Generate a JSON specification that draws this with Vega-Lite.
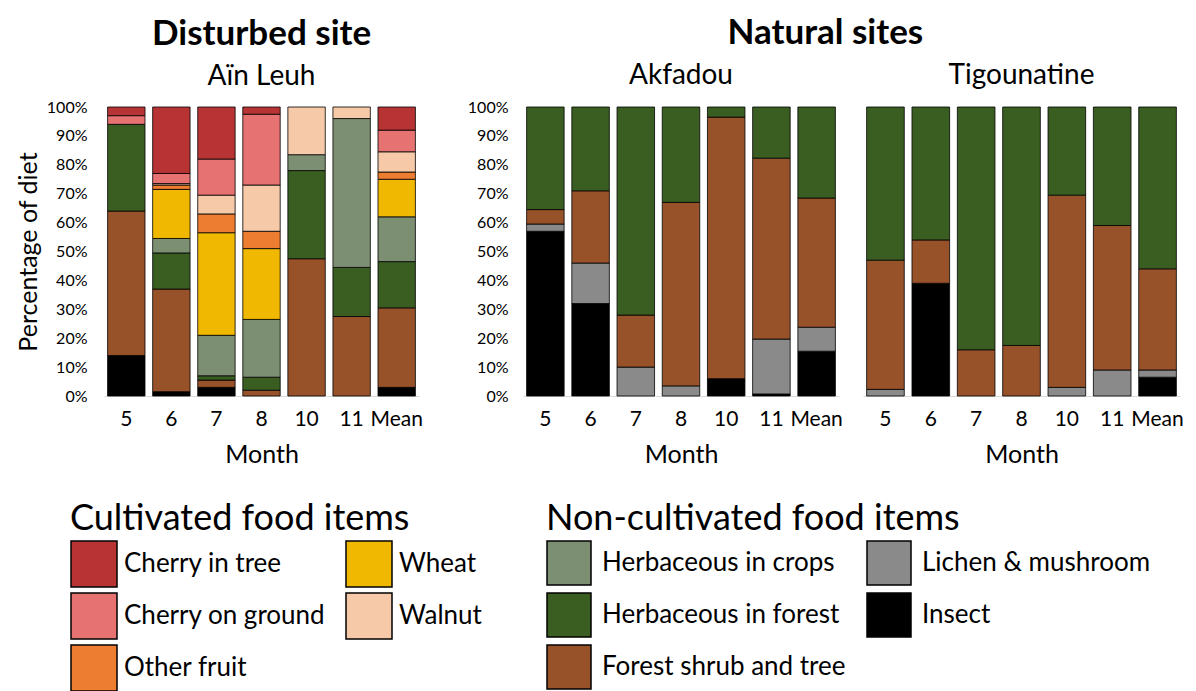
{
  "$schema": "https://vega.github.io/schema/vega-lite/v6.json",
  "background": "white",
  "padding": {"left": 16, "top": 15, "right": 5, "bottom": 5},
  "config": {
    "font": "Lato",
    "view": {"stroke": null},
    "title": {"color": "black", "subtitleColor": "black", "font": "Lato", "subtitleFont": "Lato"},
    "axis": {"labelColor": "black", "titleColor": "black", "labelFont": "Lato", "titleFont": "Lato", "titleFontWeight": "normal", "grid": false, "ticks": false},
    "legend": {"labelFont": "Lato", "titleFont": "Lato", "labelColor": "black", "titleColor": "black", "titleFontWeight": "normal", "padding": 0}
  },
  "datasets": {
    "cats": [
      {"item": "Insect", "rank": 1, "group": "non"},
      {"item": "Lichen & mushroom", "rank": 2, "group": "non"},
      {"item": "Forest shrub and tree", "rank": 3, "group": "non"},
      {"item": "Herbaceous in forest", "rank": 4, "group": "non"},
      {"item": "Herbaceous in crops", "rank": 5, "group": "non"},
      {"item": "Wheat", "rank": 6, "group": "cult"},
      {"item": "Other fruit", "rank": 7, "group": "cult"},
      {"item": "Walnut", "rank": 8, "group": "cult"},
      {"item": "Cherry on ground", "rank": 9, "group": "cult"},
      {"item": "Cherry in tree", "rank": 10, "group": "cult"}
    ],
    "diet": [
      {"site": "Aïn Leuh", "month": "5", "item": "Insect", "pct": 14},
      {"site": "Aïn Leuh", "month": "5", "item": "Forest shrub and tree", "pct": 50},
      {"site": "Aïn Leuh", "month": "5", "item": "Herbaceous in forest", "pct": 30},
      {"site": "Aïn Leuh", "month": "5", "item": "Cherry on ground", "pct": 3},
      {"site": "Aïn Leuh", "month": "5", "item": "Cherry in tree", "pct": 3},
      {"site": "Aïn Leuh", "month": "6", "item": "Insect", "pct": 1.5},
      {"site": "Aïn Leuh", "month": "6", "item": "Forest shrub and tree", "pct": 35.5},
      {"site": "Aïn Leuh", "month": "6", "item": "Herbaceous in forest", "pct": 12.5},
      {"site": "Aïn Leuh", "month": "6", "item": "Herbaceous in crops", "pct": 5},
      {"site": "Aïn Leuh", "month": "6", "item": "Wheat", "pct": 17},
      {"site": "Aïn Leuh", "month": "6", "item": "Other fruit", "pct": 1.5},
      {"site": "Aïn Leuh", "month": "6", "item": "Walnut", "pct": 0.5},
      {"site": "Aïn Leuh", "month": "6", "item": "Cherry on ground", "pct": 3.5},
      {"site": "Aïn Leuh", "month": "6", "item": "Cherry in tree", "pct": 23},
      {"site": "Aïn Leuh", "month": "7", "item": "Insect", "pct": 3},
      {"site": "Aïn Leuh", "month": "7", "item": "Forest shrub and tree", "pct": 2.5},
      {"site": "Aïn Leuh", "month": "7", "item": "Herbaceous in forest", "pct": 1.5},
      {"site": "Aïn Leuh", "month": "7", "item": "Herbaceous in crops", "pct": 14},
      {"site": "Aïn Leuh", "month": "7", "item": "Wheat", "pct": 35.5},
      {"site": "Aïn Leuh", "month": "7", "item": "Other fruit", "pct": 6.5},
      {"site": "Aïn Leuh", "month": "7", "item": "Walnut", "pct": 6.5},
      {"site": "Aïn Leuh", "month": "7", "item": "Cherry on ground", "pct": 12.5},
      {"site": "Aïn Leuh", "month": "7", "item": "Cherry in tree", "pct": 18},
      {"site": "Aïn Leuh", "month": "8", "item": "Forest shrub and tree", "pct": 2},
      {"site": "Aïn Leuh", "month": "8", "item": "Herbaceous in forest", "pct": 4.5},
      {"site": "Aïn Leuh", "month": "8", "item": "Herbaceous in crops", "pct": 20},
      {"site": "Aïn Leuh", "month": "8", "item": "Wheat", "pct": 24.5},
      {"site": "Aïn Leuh", "month": "8", "item": "Other fruit", "pct": 6},
      {"site": "Aïn Leuh", "month": "8", "item": "Walnut", "pct": 16},
      {"site": "Aïn Leuh", "month": "8", "item": "Cherry on ground", "pct": 24.5},
      {"site": "Aïn Leuh", "month": "8", "item": "Cherry in tree", "pct": 2.5},
      {"site": "Aïn Leuh", "month": "10", "item": "Forest shrub and tree", "pct": 47.5},
      {"site": "Aïn Leuh", "month": "10", "item": "Herbaceous in forest", "pct": 30.5},
      {"site": "Aïn Leuh", "month": "10", "item": "Herbaceous in crops", "pct": 5.5},
      {"site": "Aïn Leuh", "month": "10", "item": "Walnut", "pct": 16.5},
      {"site": "Aïn Leuh", "month": "11", "item": "Forest shrub and tree", "pct": 27.5},
      {"site": "Aïn Leuh", "month": "11", "item": "Herbaceous in forest", "pct": 17},
      {"site": "Aïn Leuh", "month": "11", "item": "Herbaceous in crops", "pct": 51.5},
      {"site": "Aïn Leuh", "month": "11", "item": "Walnut", "pct": 4},
      {"site": "Aïn Leuh", "month": "Mean", "item": "Insect", "pct": 3},
      {"site": "Aïn Leuh", "month": "Mean", "item": "Forest shrub and tree", "pct": 27.5},
      {"site": "Aïn Leuh", "month": "Mean", "item": "Herbaceous in forest", "pct": 16},
      {"site": "Aïn Leuh", "month": "Mean", "item": "Herbaceous in crops", "pct": 15.5},
      {"site": "Aïn Leuh", "month": "Mean", "item": "Wheat", "pct": 13},
      {"site": "Aïn Leuh", "month": "Mean", "item": "Other fruit", "pct": 2.5},
      {"site": "Aïn Leuh", "month": "Mean", "item": "Walnut", "pct": 7},
      {"site": "Aïn Leuh", "month": "Mean", "item": "Cherry on ground", "pct": 7.5},
      {"site": "Aïn Leuh", "month": "Mean", "item": "Cherry in tree", "pct": 8},
      {"site": "Akfadou", "month": "5", "item": "Insect", "pct": 57},
      {"site": "Akfadou", "month": "5", "item": "Lichen & mushroom", "pct": 2.5},
      {"site": "Akfadou", "month": "5", "item": "Forest shrub and tree", "pct": 5},
      {"site": "Akfadou", "month": "5", "item": "Herbaceous in forest", "pct": 35.5},
      {"site": "Akfadou", "month": "6", "item": "Insect", "pct": 32},
      {"site": "Akfadou", "month": "6", "item": "Lichen & mushroom", "pct": 14},
      {"site": "Akfadou", "month": "6", "item": "Forest shrub and tree", "pct": 25},
      {"site": "Akfadou", "month": "6", "item": "Herbaceous in forest", "pct": 29},
      {"site": "Akfadou", "month": "7", "item": "Lichen & mushroom", "pct": 10},
      {"site": "Akfadou", "month": "7", "item": "Forest shrub and tree", "pct": 18},
      {"site": "Akfadou", "month": "7", "item": "Herbaceous in forest", "pct": 72},
      {"site": "Akfadou", "month": "8", "item": "Lichen & mushroom", "pct": 3.5},
      {"site": "Akfadou", "month": "8", "item": "Forest shrub and tree", "pct": 63.5},
      {"site": "Akfadou", "month": "8", "item": "Herbaceous in forest", "pct": 33},
      {"site": "Akfadou", "month": "10", "item": "Insect", "pct": 6},
      {"site": "Akfadou", "month": "10", "item": "Forest shrub and tree", "pct": 90.5},
      {"site": "Akfadou", "month": "10", "item": "Herbaceous in forest", "pct": 3.5},
      {"site": "Akfadou", "month": "11", "item": "Insect", "pct": 0.7},
      {"site": "Akfadou", "month": "11", "item": "Lichen & mushroom", "pct": 19},
      {"site": "Akfadou", "month": "11", "item": "Forest shrub and tree", "pct": 62.6},
      {"site": "Akfadou", "month": "11", "item": "Herbaceous in forest", "pct": 17.7},
      {"site": "Akfadou", "month": "Mean", "item": "Insect", "pct": 15.5},
      {"site": "Akfadou", "month": "Mean", "item": "Lichen & mushroom", "pct": 8.3},
      {"site": "Akfadou", "month": "Mean", "item": "Forest shrub and tree", "pct": 44.7},
      {"site": "Akfadou", "month": "Mean", "item": "Herbaceous in forest", "pct": 31.5},
      {"site": "Tigounatine", "month": "5", "item": "Lichen & mushroom", "pct": 2.3},
      {"site": "Tigounatine", "month": "5", "item": "Forest shrub and tree", "pct": 44.7},
      {"site": "Tigounatine", "month": "5", "item": "Herbaceous in forest", "pct": 53},
      {"site": "Tigounatine", "month": "6", "item": "Insect", "pct": 39},
      {"site": "Tigounatine", "month": "6", "item": "Forest shrub and tree", "pct": 15},
      {"site": "Tigounatine", "month": "6", "item": "Herbaceous in forest", "pct": 46},
      {"site": "Tigounatine", "month": "7", "item": "Forest shrub and tree", "pct": 16},
      {"site": "Tigounatine", "month": "7", "item": "Herbaceous in forest", "pct": 84},
      {"site": "Tigounatine", "month": "8", "item": "Forest shrub and tree", "pct": 17.5},
      {"site": "Tigounatine", "month": "8", "item": "Herbaceous in forest", "pct": 82.5},
      {"site": "Tigounatine", "month": "10", "item": "Lichen & mushroom", "pct": 3},
      {"site": "Tigounatine", "month": "10", "item": "Forest shrub and tree", "pct": 66.5},
      {"site": "Tigounatine", "month": "10", "item": "Herbaceous in forest", "pct": 30.5},
      {"site": "Tigounatine", "month": "11", "item": "Lichen & mushroom", "pct": 9},
      {"site": "Tigounatine", "month": "11", "item": "Forest shrub and tree", "pct": 50},
      {"site": "Tigounatine", "month": "11", "item": "Herbaceous in forest", "pct": 41},
      {"site": "Tigounatine", "month": "Mean", "item": "Insect", "pct": 6.5},
      {"site": "Tigounatine", "month": "Mean", "item": "Lichen & mushroom", "pct": 2.5},
      {"site": "Tigounatine", "month": "Mean", "item": "Forest shrub and tree", "pct": 35},
      {"site": "Tigounatine", "month": "Mean", "item": "Herbaceous in forest", "pct": 56}
    ]
  },
  "spacing": 44,
  "hconcat": [
    {
      "title": {"text": "Disturbed site", "subtitle": "Aïn Leuh", "fontSize": 35, "fontWeight": "bold", "subtitleFontSize": 28, "subtitlePadding": 11, "anchor": "middle", "offset": 8},
      "width": 315,
      "height": 289,
      "data": {"name": "diet"},
      "transform": [
        {"filter": "datum.site === 'Aïn Leuh'"},
        {"lookup": "item", "from": {"data": {"name": "cats"}, "key": "item", "fields": ["rank", "group"]}},
        {"stack": "pct", "groupby": ["month"], "sort": [{"field": "rank", "order": "ascending"}], "as": ["y0", "y1"]}
      ],
      "encoding": {
        "x": {"field": "month", "type": "ordinal", "sort": ["5", "6", "7", "8", "10", "11", "Mean"],
              "scale": {"paddingInner": 0.17, "paddingOuter": 0.08},
              "axis": {"title": "Month", "labelAngle": 0, "labelFontSize": 21, "titleFontSize": 25, "domainColor": "#d9d9d9", "labelPadding": 12, "titlePadding": 13}},
        "y": {"field": "y1", "type": "quantitative", "scale": {"domain": [0, 100], "nice": false},
              "axis": {"title": "Percentage of diet", "titleFontSize": 25, "labelFontSize": 16, "domain": false, "values": [0, 10, 20, 30, 40, 50, 60, 70, 80, 90, 100], "labelExpr": "datum.value + '%'", "labelPadding": 17, "titlePadding": 5}},
        "y2": {"field": "y0"}
      },
      "layer": [
        {
          "transform": [{"filter": "datum.group === 'non'"}],
          "mark": {"type": "bar", "stroke": "black", "strokeWidth": 0.8},
          "encoding": {
            "fill": {"field": "item", "type": "nominal",
                     "scale": {"domain": ["Herbaceous in crops", "Herbaceous in forest", "Forest shrub and tree", "Lichen & mushroom", "Insect"],
                               "range": ["#7d8f72", "#3a5e22", "#98522a", "#8a8a8a", "#000000"]},
                     "legend": {"title": "Non-cultivated food items", "orient": "none", "legendX": 442, "legendY": 395, "columns": 2, "symbolType": "square", "symbolSize": 1936, "symbolStrokeColor": "black", "symbolStrokeWidth": 1.5, "labelFontSize": 26, "titleFontSize": 36, "titlePadding": 2, "titleLimit": 600, "rowPadding": 2, "columnPadding": 18, "labelOffset": 10, "labelLimit": 400}}
          }
        },
        {
          "transform": [{"filter": "datum.group === 'cult'"}],
          "mark": {"type": "bar", "stroke": "black", "strokeWidth": 0.8},
          "encoding": {
            "color": {"field": "item", "type": "nominal",
                      "scale": {"domain": ["Cherry in tree", "Cherry on ground", "Other fruit", "Wheat", "Walnut"],
                                "range": ["#b83434", "#e67272", "#ed7d31", "#f0b800", "#f6c9a9"]},
                      "legend": {"title": "Cultivated food items", "orient": "none", "legendX": -34, "legendY": 395, "columns": 2, "symbolType": "square", "symbolSize": 2116, "symbolStrokeColor": "black", "symbolStrokeWidth": 1.5, "labelFontSize": 26, "titleFontSize": 36, "titlePadding": 2, "titleLimit": 600, "rowPadding": 0, "columnPadding": 17, "labelOffset": 6, "labelLimit": 400}}
          }
        }
      ]
    },
    {
      "title": {"text": "Natural sites", "fontSize": 35, "fontWeight": "bold", "anchor": "middle", "offset": 11},
      "spacing": 20,
      "hconcat": [
        {
          "title": {"text": "Akfadou", "fontSize": 28, "fontWeight": "normal", "anchor": "middle", "offset": 9},
          "width": 316,
          "height": 289,
          "data": {"name": "diet"},
          "transform": [
            {"filter": "datum.site === 'Akfadou'"},
            {"lookup": "item", "from": {"data": {"name": "cats"}, "key": "item", "fields": ["rank", "group"]}},
            {"stack": "pct", "groupby": ["month"], "sort": [{"field": "rank", "order": "ascending"}], "as": ["y0", "y1"]}
          ],
          "mark": {"type": "bar", "stroke": "black", "strokeWidth": 0.8},
          "encoding": {
            "x": {"field": "month", "type": "ordinal", "sort": ["5", "6", "7", "8", "10", "11", "Mean"],
                  "scale": {"paddingInner": 0.17, "paddingOuter": 0.08},
                  "axis": {"title": "Month", "labelAngle": 0, "labelFontSize": 21, "titleFontSize": 25, "domainColor": "#d9d9d9", "labelPadding": 12, "titlePadding": 13}},
            "y": {"field": "y1", "type": "quantitative", "scale": {"domain": [0, 100], "nice": false},
                  "axis": {"title": null, "labelFontSize": 16, "domain": false, "values": [0, 10, 20, 30, 40, 50, 60, 70, 80, 90, 100], "labelExpr": "datum.value + '%'", "labelPadding": 15}},
            "y2": {"field": "y0"},
            "fill": {"field": "item", "type": "nominal",
                     "scale": {"domain": ["Herbaceous in crops", "Herbaceous in forest", "Forest shrub and tree", "Lichen & mushroom", "Insect"],
                               "range": ["#7d8f72", "#3a5e22", "#98522a", "#8a8a8a", "#000000"]}}
          }
        },
        {
          "title": {"text": "Tigounatine", "fontSize": 28, "fontWeight": "normal", "anchor": "middle", "offset": 17},
          "width": 317,
          "height": 289,
          "data": {"name": "diet"},
          "transform": [
            {"filter": "datum.site === 'Tigounatine'"},
            {"lookup": "item", "from": {"data": {"name": "cats"}, "key": "item", "fields": ["rank", "group"]}},
            {"stack": "pct", "groupby": ["month"], "sort": [{"field": "rank", "order": "ascending"}], "as": ["y0", "y1"]}
          ],
          "mark": {"type": "bar", "stroke": "black", "strokeWidth": 0.8},
          "encoding": {
            "x": {"field": "month", "type": "ordinal", "sort": ["5", "6", "7", "8", "10", "11", "Mean"],
                  "scale": {"paddingInner": 0.17, "paddingOuter": 0.08},
                  "axis": {"title": "Month", "labelAngle": 0, "labelFontSize": 21, "titleFontSize": 25, "domainColor": "#d9d9d9", "labelPadding": 12, "titlePadding": 13}},
            "y": {"field": "y1", "type": "quantitative", "scale": {"domain": [0, 100], "nice": false}, "axis": null},
            "y2": {"field": "y0"},
            "fill": {"field": "item", "type": "nominal",
                     "scale": {"domain": ["Herbaceous in crops", "Herbaceous in forest", "Forest shrub and tree", "Lichen & mushroom", "Insect"],
                               "range": ["#7d8f72", "#3a5e22", "#98522a", "#8a8a8a", "#000000"]}}
          }
        }
      ]
    }
  ]
}
